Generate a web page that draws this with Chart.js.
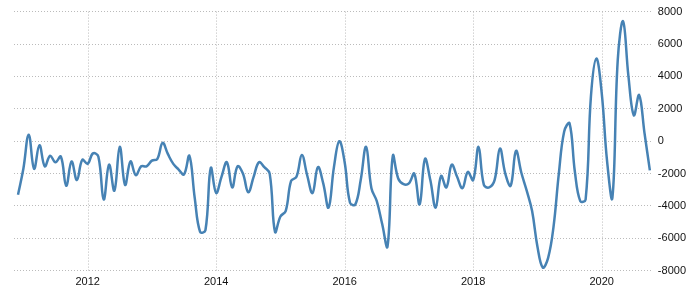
<!DOCTYPE html>
<html>
<head>
<meta charset="utf-8">
<script src="https://cdn.jsdelivr.net/npm/chart.js@4/dist/chart.umd.min.js"></script>
<style>
html,body{margin:0;padding:0;background:#fff;}
#wrap{width:693px;height:302px;position:relative;}
</style>
</head>
<body>
<div id="wrap"><canvas id="c"></canvas></div>
<script>
// Monthly series, Dec 2010 .. Sep 2020
const startYear = 2010;
const startMonth = 12; // December
const values = [
  -3300, -1700, 400, -1700, -250, -1550, -900, -1300, -950, -2750,
  -1250, -2400, -1150, -1400, -750, -950, -3600, -1450, -3050, -350,
  -2700, -1250, -2100, -1550, -1550, -1200, -1100, -100, -800, -1400,
  -1750, -2050, -900, -3500, -5600, -5500, -1650, -3200, -2200, -1300,
  -2850, -1550, -2000, -3150, -2200, -1300, -1600, -2000, -5600, -4650,
  -4300, -2450, -2200, -850, -2100, -3200, -1600, -2600, -4100, -1600,
  0, -1300, -3800, -3900, -2400, -350, -2900, -3700, -5100, -6500,
  -900, -2300, -2650, -2600, -2000, -3900, -1100, -2400, -4100, -2150,
  -2850, -1450, -2200, -2900, -1900, -2400, -350, -2700, -2850, -2400,
  -450, -2000, -2750, -600, -1950, -3050, -4300, -6500, -7800, -7200,
  -5300, -2000, 600, 1100, -1900, -3700, -3600, 2800, 5100, 3000,
  -1200, -3500, 5000, 7400, 4000, 1600, 2850, 500, -1800
];
const tickYears = ["2012", "2014", "2016", "2018", "2020"];
const yTicks = [-8000, -6000, -4000, -2000, 0, 2000, 4000, 6000, 8000];

// month index of January of each labelled year
const tickIndex = tickYears.map(y => (Number(y) - startYear) * 12 + (1 - startMonth));
const points = values.map((v, i) => ({x: i, y: v}));

Chart.defaults.font.family = "'Liberation Sans', Arial, sans-serif";
Chart.defaults.font.size = 11;
Chart.defaults.color = '#111';
const gridCol = '#bbbbbb';
const gridDash = [1, 2];

// dotted vertical lines at the labelled years only
const yearLines = {
  id: 'yearLines',
  beforeDatasetsDraw(chart) {
    const {ctx, chartArea: a, scales: {x}} = chart;
    ctx.save();
    ctx.strokeStyle = gridCol;
    ctx.lineWidth = 1;
    ctx.setLineDash(gridDash);
    tickIndex.forEach(v => {
      const px = Math.round(x.getPixelForValue(v)) + 0.5;
      ctx.beginPath();
      ctx.moveTo(px, a.top);
      ctx.lineTo(px, a.bottom);
      ctx.stroke();
    });
    ctx.restore();
  }
};

new Chart(document.getElementById('c'), {
  type: 'line',
  data: {
    datasets: [{
      data: points,
      borderColor: '#4682b4',
      borderWidth: 2.5,
      pointRadius: 0,
      tension: 0.4,
      fill: false
    }]
  },
  options: {
    responsive: true,
    maintainAspectRatio: false,
    animation: false,
    layout: {padding: {left: 14, right: 2, top: -7, bottom: 8}},
    plugins: {legend: {display: false}, tooltip: {enabled: false}},
    scales: {
      x: {
        type: 'linear',
        min: -0.75,
        max: values.length - 1 + 0.56,
        afterBuildTicks: (axis) => { axis.ticks = tickIndex.map(v => ({value: v})); },
        ticks: {
          autoSkip: false,
          maxRotation: 0,
          padding: 5,
          callback: (v) => { const k = tickIndex.indexOf(v); return k >= 0 ? tickYears[k] : ''; }
        },
        grid: {display: false, drawTicks: false, tickLength: 0},
        border: {display: false}
      },
      y: {
        position: 'right',
        min: -8000,
        max: 8000,
        afterBuildTicks: (axis) => { axis.ticks = yTicks.map(v => ({value: v})); },
        ticks: {
          padding: 5,
          callback: (v) => String(v)
        },
        grid: {color: gridCol, lineWidth: 1, drawTicks: false, tickLength: 0},
        border: {display: false, dash: gridDash}
      }
    }
  },
  plugins: [yearLines]
});
</script>
</body>
</html>
